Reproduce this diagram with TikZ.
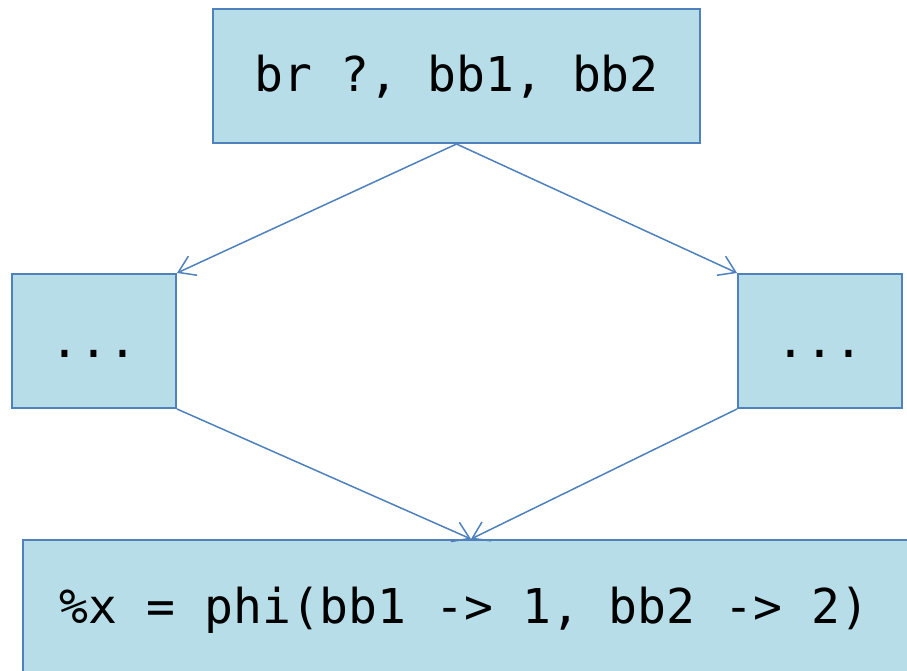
\documentclass[tikz,border=0pt]{standalone}
\usepackage{fontspec}
\setmonofont{DejaVu Sans Mono}
\usetikzlibrary{arrows.meta}
\definecolor{boxfill}{HTML}{B7DDE8}
\definecolor{boxline}{HTML}{4F81BD}
\tikzset{
  block/.style={draw=boxline, fill=boxfill, line width=2pt, inner sep=0pt,
    font=\ttfamily\fontsize{48}{58}\selectfont, text height=32pt, text depth=0pt},
  label/.style={inner sep=0pt, font=\ttfamily\fontsize{48}{58}\selectfont, anchor=base},
  flow/.style={draw=boxline, line width=1.5pt,
    -{Straight Barb[length=16pt, width=21pt, line width=1.5pt]}}
}
\begin{document}
\begin{tikzpicture}[x=1pt, y=-1pt]
  \clip (0,0) rectangle (907,671);
  \fill[white] (0,0) rectangle (907,671);
  % branch instruction
  \node[block, minimum width=487pt, minimum height=134pt] (br) at (456.5,76) {br ?, bb1, bb2};
  % the two successor blocks
  \node[block, minimum width=164pt, minimum height=134pt] (left) at (94,341) {...};
  \node[block, minimum width=164pt, minimum height=134pt] (right) at (820,341) {...};
  % join block with the phi node
  \node[block, minimum width=896pt, minimum height=180pt, anchor=north] (merge) at (471,539) {};
  \node[label] (phi) at (464.5,623) {\%x = phi(bb1 -> 1, bb2 -> 2)};
  % control flow
  \draw[flow] (br.south) -- (left.north east);
  \draw[flow] (br.south) -- (right.north west);
  \draw[flow] (left.south east) -- (merge.north);
  \draw[flow] (right.south west) -- (merge.north);
\end{tikzpicture}
\end{document}
